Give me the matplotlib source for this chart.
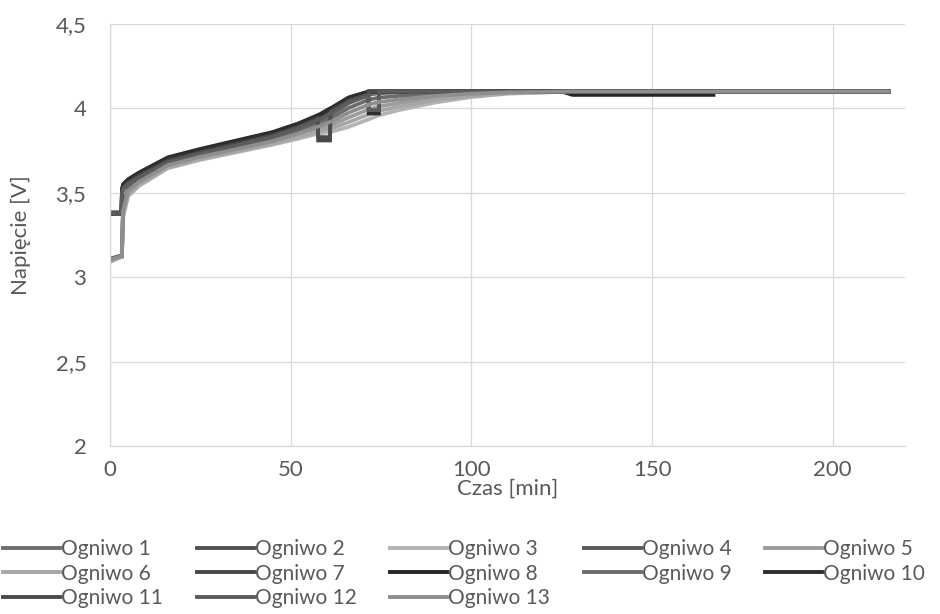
import numpy as np
import matplotlib
matplotlib.use('Agg')
import matplotlib.pyplot as plt
from matplotlib.ticker import FuncFormatter

nan = np.nan

# czas ladowania [min], wspolny dla wszystkich ogniw
czas = [0, 3.2, 3.3, 3.6, 5, 8, 16, 25, 35, 45, 52, 57.5, 57.6, 60.9, 61, 66,
        71.5, 71.6, 74.4, 74.5, 80, 90, 100, 110, 125, 128, 165, 167, 215.5]

# napiecia [V]
ogniwo_1 = [3.11, 3.13, 3.13, 3.42, 3.53, 3.58, 3.675, 3.725, 3.77, 3.82, 3.87, 3.92, 3.92, 3.96, 3.96, 4.03,
            4.08, 4.08, 4.09, 4.09, 4.095, 4.10, 4.10, 4.10, 4.10, 4.10, 4.10, 4.10, 4.10]
ogniwo_2 = [3.385, 3.385, 3.505, 3.535, 3.565, 3.605, 3.695, 3.745, 3.795, 3.845, 3.895, 3.945, 3.945, 3.985, 3.985, 4.05,
            4.09, 4.10, 4.10, 4.10, 4.10, 4.10, 4.10, 4.10, 4.10, 4.10, 4.10, 4.10, 4.10]
ogniwo_3 = [3.09, 3.12, 3.12, 3.35, 3.48, 3.54, 3.645, 3.695, 3.74, 3.785, 3.82, 3.85, 3.85, 3.86, 3.86, 3.89,
            3.935, 3.935, 3.96, 3.96, 3.99, 4.035, 4.067, 4.087, 4.098, 4.10, 4.10, 4.10, 4.10]
ogniwo_4 = [3.375, 3.375, 3.495, 3.525, 3.555, 3.595, 3.685, 3.735, 3.785, 3.835, 3.885, 3.935, 3.935, 3.975, 3.975, 4.04,
            4.08, 4.10, 4.10, 4.10, 4.10, 4.10, 4.10, 4.10, 4.10, 4.10, 4.10, 4.10, 4.10]
ogniwo_5 = [3.098, 3.124, 3.124, 3.378, 3.50, 3.556, 3.657, 3.707, 3.752, 3.799, 3.84, 3.878, 3.878, 3.90, 3.90, 3.946,
            3.993, 3.993, 4.012, 4.012, 4.032, 4.061, 4.08, 4.092, 4.099, 4.10, 4.10, 4.10, 4.10]
ogniwo_6 = [3.094, 3.122, 3.122, 3.364, 3.49, 3.548, 3.651, 3.701, 3.746, 3.792, 3.83, 3.864, 3.864, 3.88, 3.88, 3.918,
            3.964, 3.964, 3.986, 3.986, 4.011, 4.048, 4.074, 4.09, 4.098, 4.10, 4.10, 4.10, 4.10]
ogniwo_7 = [3.375, 3.375, 3.51, 3.54, 3.57, 3.61, 3.70, 3.75, 3.80, 3.85, 3.90, 3.95, 3.81, 3.81, 3.99, 4.055,
            4.09, 4.10, 4.10, 4.10, 4.10, 4.10, 4.10, 4.10, 4.10, 4.10, 4.10, 4.10, 4.10]
ogniwo_8 = [3.38, 3.38, 3.52, 3.55, 3.58, 3.62, 3.71, 3.76, 3.81, 3.86, 3.91, 3.96, 3.96, 4.00, 4.00, 4.065,
            4.10, 4.10, 4.10, 4.10, 4.10, 4.10, 4.10, 4.10, 4.10, 4.08, 4.08, 4.08, nan]
ogniwo_9 = [3.106, 3.128, 3.128, 3.406, 3.52, 3.572, 3.669, 3.719, 3.764, 3.813, 3.86, 3.906, 3.906, 3.94, 3.94, 4.002,
            4.051, 4.051, 4.064, 4.064, 4.074, 4.087, 4.093, 4.097, 4.10, 4.10, 4.10, 4.10, 4.10]
ogniwo_10 = [3.38, 3.38, 3.515, 3.545, 3.575, 3.615, 3.705, 3.755, 3.805, 3.855, 3.905, 3.955, 3.955, 3.995, 3.995, 4.06,
             4.095, 3.97, 3.97, 4.10, 4.10, 4.10, 4.10, 4.10, 4.10, 4.10, 4.10, 4.10, 4.10]
ogniwo_11 = [3.38, 3.38, 3.50, 3.53, 3.56, 3.60, 3.69, 3.74, 3.79, 3.84, 3.89, 3.94, 3.83, 3.83, 3.98, 4.045,
             4.085, 4.10, 4.10, 4.10, 4.10, 4.10, 4.10, 4.10, 4.10, 4.10, 4.10, 4.10, 4.10]
ogniwo_12 = [3.38, 3.38, 3.49, 3.52, 3.55, 3.59, 3.68, 3.73, 3.78, 3.83, 3.88, 3.93, 3.93, 3.97, 3.97, 4.035,
             4.075, 3.99, 3.99, 4.10, 4.10, 4.10, 4.10, 4.10, 4.10, 4.10, 4.10, 4.10, 4.10]
ogniwo_13 = [3.102, 3.126, 3.126, 3.392, 3.51, 3.564, 3.663, 3.713, 3.758, 3.806, 3.85, 3.892, 3.892, 3.92, 3.92, 3.974,
             4.022, 4.022, 4.038, 4.038, 4.053, 4.074, 4.087, 4.095, 4.099, 4.10, 4.10, 4.10, 4.10]

serie = [ogniwo_1, ogniwo_2, ogniwo_3, ogniwo_4, ogniwo_5, ogniwo_6, ogniwo_7,
         ogniwo_8, ogniwo_9, ogniwo_10, ogniwo_11, ogniwo_12, ogniwo_13]
nazwy = ['Ogniwo ' + str(i + 1) for i in range(len(serie))]
kolory = ['#6e6e6e', '#515151', '#b4b4b4', '#585858', '#9c9c9c', '#a6a6a6', '#474747',
          '#262626', '#6b6b6b', '#2e2e2e', '#4b4b4b', '#5c5c5c', '#8f8f8f']

plt.rcParams['font.family'] = ['Lato', 'DejaVu Sans']
txt = '#595959'

fig = plt.figure(figsize=(9.4, 6.14), dpi=100)
ax = fig.add_axes([110/940., 1 - 446/614., 795/940., 422/614.])

lines = []
for v, n, c in zip(serie, nazwy, kolory):
    l, = ax.plot(czas, v, color=c, lw=2.7, label=n, solid_joinstyle='miter')
    lines.append(l)

ax.set_xlim(0, 220)
ax.set_ylim(2, 4.5)
ax.set_xticks([0, 50, 100, 150, 200])
ax.set_yticks([2, 2.5, 3, 3.5, 4, 4.5])
ax.yaxis.set_major_formatter(FuncFormatter(lambda y, p: ('%g' % y).replace('.', ',')))
ax.grid(True, color='#d9d9d9', lw=0.9)
ax.set_axisbelow(True)
for s in ['top', 'right']:
    ax.spines[s].set_visible(False)
for s in ['left', 'bottom']:
    ax.spines[s].set_color('#d9d9d9')
    ax.spines[s].set_linewidth(0.9)
ax.tick_params(length=0, labelsize=16, colors=txt)
ax.tick_params(axis='y', pad=17)
ax.tick_params(axis='x', pad=10)
ax.set_xlabel('Czas [min]', fontsize=16, color=txt, labelpad=-1)
ax.set_ylabel('Napięcie [V]', fontsize=16, color=txt, labelpad=18)

# Excel uklada legende wierszami, matplotlib kolumnami
order = [0, 5, 10, 1, 6, 11, 2, 7, 12, 3, 8, 4, 9]
leg = fig.legend([lines[i] for i in order], [nazwy[i] for i in order],
                 ncol=5, loc='upper left', bbox_to_anchor=(3/940., 1 - 539/614.),
                 frameon=False, fontsize=15, handlelength=2.75, handletextpad=0.05,
                 columnspacing=1.6, labelspacing=0.22, borderpad=0, borderaxespad=0)
for t in leg.get_texts():
    t.set_color(txt)
for h in leg.legend_handles:
    h.set_linewidth(2.8)

fig.savefig('out.png', dpi=100)
